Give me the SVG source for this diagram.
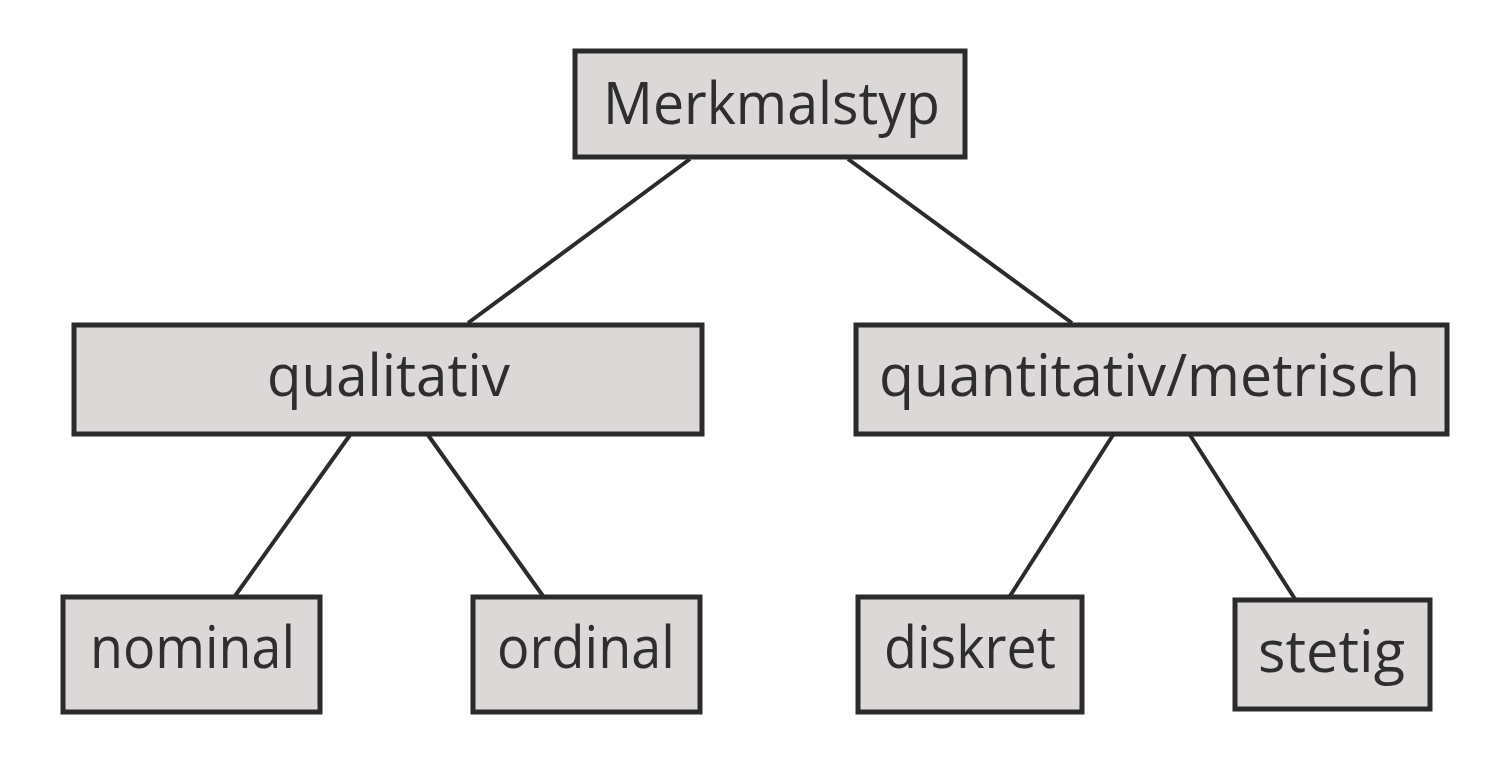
<svg xmlns="http://www.w3.org/2000/svg" width="1496" height="782" viewBox="0 0 1496 782">
<style>
.box{fill:#dbd8d7;stroke:#2b2b2b;stroke-width:5}
.lbl{font-family:"Open Sans","DejaVu Sans",sans-serif;font-size:58px;fill:#2e2e2e;text-anchor:start}
.edge{stroke:#2b2b2b;stroke-width:4;fill:none}
</style>
<rect width="1496" height="782" fill="#ffffff"/>
<g id="connectors">
<line class="edge" x1="690" y1="159" x2="468" y2="323"/>
<line class="edge" x1="848" y1="159" x2="1072" y2="323"/>
<line class="edge" x1="350" y1="435" x2="235" y2="596"/>
<line class="edge" x1="428" y1="435" x2="543" y2="596"/>
<line class="edge" x1="1113" y1="435" x2="1010" y2="596"/>
<line class="edge" x1="1190" y1="435" x2="1295" y2="599"/>
</g>
<g id="merkmalstyp">
<rect class="box" x="575" y="51" width="390" height="106"/>
<text class="lbl" x="603" y="124" textLength="337" lengthAdjust="spacingAndGlyphs">Merkmalstyp</text>
</g>
<g id="qualitativ">
<rect class="box" x="74" y="325" width="628" height="109"/>
<text class="lbl" x="267" y="396" textLength="243" lengthAdjust="spacingAndGlyphs">qualitativ</text>
</g>
<g id="quantitativ">
<rect class="box" x="856" y="325" width="591" height="109"/>
<text class="lbl" x="879" y="396" textLength="541" lengthAdjust="spacingAndGlyphs">quantitativ/metrisch</text>
</g>
<g id="nominal">
<rect class="box" x="63" y="597" width="257" height="115"/>
<text class="lbl" x="90" y="668" textLength="205" lengthAdjust="spacingAndGlyphs">nominal</text>
</g>
<g id="ordinal">
<rect class="box" x="473" y="597" width="227" height="115"/>
<text class="lbl" x="497" y="668" textLength="178" lengthAdjust="spacingAndGlyphs">ordinal</text>
</g>
<g id="diskret">
<rect class="box" x="858" y="597" width="224" height="115"/>
<text class="lbl" x="884" y="668" textLength="172" lengthAdjust="spacingAndGlyphs">diskret</text>
</g>
<g id="stetig">
<rect class="box" x="1235" y="600" width="195" height="109"/>
<text class="lbl" x="1258" y="672" textLength="147" lengthAdjust="spacingAndGlyphs">stetig</text>
</g>
</svg>
